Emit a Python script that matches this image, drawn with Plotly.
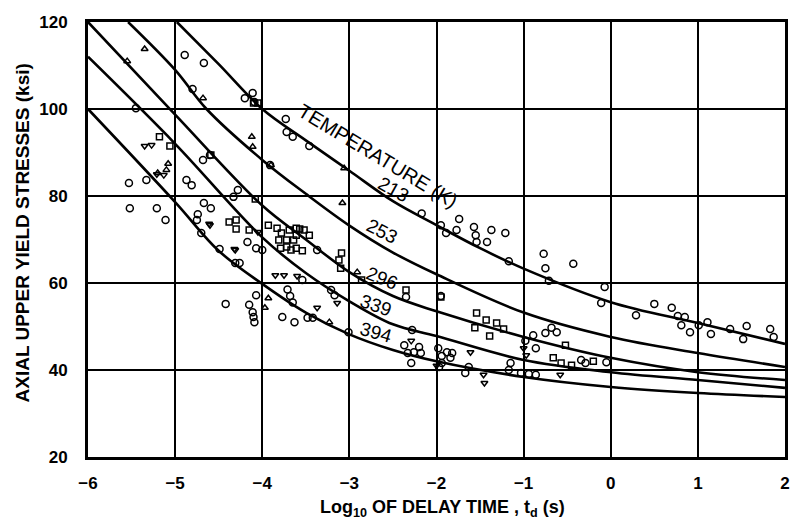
import plotly.graph_objects as go

# Fitted yield-stress curves, one per test temperature (K)
temps = ["213", "253", "296", "339", "394"]
curve_x = {
    "213": [-4.98, -4.5, -4.0, -3.5, -3.0, -2.5, -2.0, -1.5, -1.0, 0.0, 1.0, 2.0],
    "253": [-5.54, -5.0, -4.64, -4.0, -3.5, -3.0, -2.5, -2.0, -1.0, 0.0, 1.0, 2.0],
    "296": [-6.0, -5.0, -4.0, -3.5, -3.0, -2.5, -2.0, -1.0, 0.0, 1.0, 2.0],
    "339": [-6.0, -5.0, -4.0, -3.5, -3.0, -2.5, -2.0, -1.0, 0.0, 1.0, 2.0],
    "394": [-6.0, -5.0, -4.5, -4.0, -3.5, -3.0, -2.5, -2.0, -1.0, 0.0, 1.0, 2.0],
}
curve_y = {
    "213": [120.0, 110.3, 100.0, 92.8, 85.8, 78.8, 73.3, 68.0, 63.3, 55.6, 50.8, 46.0],
    "253": [120.0, 109.0, 100.0, 88.3, 80.5, 73.2, 67.0, 62.0, 53.2, 47.6, 43.9, 40.7],
    "296": [120.0, 98.7, 77.8, 70.0, 62.5, 57.0, 53.5, 47.6, 42.8, 39.5, 37.7],
    "339": [112.0, 92.0, 70.5, 62.3, 55.8, 50.5, 47.8, 42.3, 39.5, 37.7, 35.9],
    "394": [100.0, 78.6, 67.4, 59.8, 53.2, 48.2, 44.6, 42.0, 38.4, 36.1, 34.7, 33.8],
}

# Measured upper yield stresses, grouped by plotting symbol
circle_x = [-4.89, -4.67, -5.45, -4.80, -4.11, -4.20, -4.09, -3.73, -3.72, -3.65, -3.46,
            -5.53, -5.52, -5.33, -5.21, -5.11, -4.87, -4.81, -4.68, -4.60, -4.28, -4.33,
            -3.91, -4.67, -4.59, -4.75, -4.74, -4.70, -4.49, -4.31, -4.26, -4.17, -4.07,
            -4.00, -4.42, -4.15, -4.11, -4.10, -4.09, -4.07, -3.77, -3.63, -3.71, -3.68,
            -3.65, -3.37, -3.21, -3.17, -3.54, -3.48, -3.42, -3.01, -2.17, -2.35, -2.28,
            -2.37, -2.33, -2.26, -2.20, -2.18, -2.29, -1.95, -1.74, -1.77, -1.89, -1.57,
            -1.55, -1.54, -1.42, -1.37, -1.21, -1.17, -0.77, -0.75, -0.71, -0.43, -0.07,
            -0.11, 0.29, 0.50, 0.70, 0.77, 0.85, 0.81, 0.91, 1.01, 1.11, 1.15, 1.37, 1.56,
            1.52, 1.83, 1.87, -1.95, -0.98, -0.89, -0.75, -0.68, -0.62, -0.86, -1.98,
            -1.94, -1.88, -1.84, -1.82, -1.97, -1.94, -1.67, -1.63, -1.15, -1.17, -1.03,
            -0.94, -0.86, -0.34, -0.29, -0.05]
circle_y = [112.4, 110.6, 100.2, 104.6, 103.7, 102.5, 101.6, 97.7, 94.7, 93.6, 91.5,
            83.0, 77.2, 83.7, 77.2, 74.5, 83.7, 82.5, 88.3, 89.4, 81.4, 79.8,
            87.1, 78.4, 77.2, 74.5, 75.8, 71.5, 67.8, 64.6, 64.6, 69.4, 68.0,
            67.6, 55.2, 55.0, 53.3, 52.2, 51.0, 57.2, 52.2, 51.0, 58.5, 57.0,
            55.5, 67.6, 58.4, 57.2, 60.7, 52.0, 52.0, 48.7, 76.0, 56.8, 49.2,
            45.7, 43.9, 44.1, 45.3, 43.9, 41.6, 73.3, 74.7, 72.2, 71.5, 72.9,
            71.0, 69.4, 69.4, 72.2, 71.5, 65.0, 66.7, 63.4, 60.5, 64.4, 59.1,
            55.4, 52.6, 55.2, 54.3, 52.4, 52.2, 50.3, 48.7, 50.3, 51.0, 48.3, 49.4, 50.1,
            47.1, 49.4, 47.6, 57.0, 46.7, 48.0, 48.5, 49.7, 48.7, 45.0, 45.0,
            43.2, 44.1, 42.8, 43.9, 40.7, 41.6, 39.3, 40.7, 41.6, 40.0, 39.3,
            39.1, 38.9, 42.3, 41.6, 41.8]

square_x = [-4.10, -4.05, -5.18, -5.06, -4.59, -4.08, -4.38, -4.30, -4.15, -4.30, -3.93,
            -3.83, -3.78, -3.69, -3.61, -3.81, -3.72, -3.64, -3.79, -3.72, -3.61, -3.57,
            -3.52, -3.46, -3.61, -3.54, -3.67, -3.09, -3.12, -3.10, -2.86, -2.35, -1.95,
            -1.54, -1.43, -1.31, -1.23, -1.56, -1.39, -0.52, -0.66, -0.57, -0.45, -0.20]
square_y = [101.4, 101.4, 93.6, 91.5, 89.4, 79.3, 74.0, 74.5, 72.2, 72.4, 73.3,
            72.6, 71.5, 72.2, 72.6, 69.9, 69.9, 69.9, 68.0, 68.3, 68.0, 72.4,
            72.2, 71.0, 71.0, 67.4, 67.6, 66.9, 65.3, 63.4, 60.7, 58.4, 56.8,
            53.1, 51.5, 50.8, 49.4, 49.7, 47.8, 45.7, 42.8, 41.6, 41.1, 42.0]

tri_up_x = [-5.35, -5.55, -4.68, -4.12, -4.11, -5.08, -5.20, -3.90, -3.06, -3.08, -3.97,
            -3.23, -2.91, -5.10, -3.93]
tri_up_y = [113.8, 111.0, 102.5, 93.6, 91.3, 87.4, 85.3, 87.1, 86.4, 78.4, 54.3,
            51.0, 62.5, 86.0, 56.5]

tri_dn_x = [-5.35, -5.27, -5.21, -5.13, -4.61, -4.60, -4.32, -4.31, -4.05, -3.85, -3.75,
            -3.60, -3.37, -3.14, -2.29, -1.61, -1.46, -1.45, -1.00, -0.97, -0.58, -2.00]
tri_dn_y = [91.5, 91.7, 85.0, 84.8, 73.6, 73.3, 67.8, 67.6, 71.7, 61.8, 61.8,
            61.6, 54.3, 55.4, 46.7, 44.1, 38.9, 37.0, 45.0, 43.4, 38.9, 41.0]

# Curve label placement (data coords) and rotation
label_x = [-2.49, -2.62, -2.62, -2.69, -2.69]
label_y = [81.6, 71.8, 61.0, 54.8, 48.6]
label_angle = [29, 27, 22, 19, 16]

FONT = "Liberation Sans, Arial, Helvetica, sans-serif"

fig = go.Figure()

for t in temps:
    fig.add_trace(go.Scatter(
        x=curve_x[t], y=curve_y[t], mode="lines",
        line=dict(color="black", width=2.6, shape="spline", smoothing=1.0),
        hoverinfo="skip", showlegend=False,
    ))

marker_sets = [
    (circle_x, circle_y, "circle-open", 7),
    (square_x, square_y, "square-open", 6),
    (tri_up_x, tri_up_y, "triangle-up-open", 6),
    (tri_dn_x, tri_dn_y, "triangle-down-open", 6),
]
for xs, ys, sym, size in marker_sets:
    fig.add_trace(go.Scatter(
        x=xs, y=ys, mode="markers", showlegend=False,
        marker=dict(symbol=sym, size=size, color="black", line=dict(color="black", width=1.5)),
    ))

annotations = [dict(
    x=-2.67, y=89.2, text="TEMPERATURE (K)", showarrow=False, textangle=31,
    font=dict(family=FONT, size=20, color="black"),
)]
for t, lx, ly, ang in zip(temps, label_x, label_y, label_angle):
    annotations.append(dict(
        x=lx, y=ly, text=t, showarrow=False, textangle=ang,
        font=dict(family=FONT, size=19, color="black"),
    ))

# Axis titles
annotations.append(dict(
    xref="paper", yref="paper", x=0.509, y=-0.118, xanchor="center", yanchor="middle",
    text="Log<sub>10</sub> OF DELAY TIME , t<sub>d</sub> (s)", showarrow=False,
    font=dict(family=FONT, size=18, color="black", weight="bold"),
))
annotations.append(dict(
    xref="paper", yref="paper", x=-0.094, y=0.515, xanchor="center", yanchor="middle",
    text="AXIAL UPPER YIELD STRESSES (ksi)", showarrow=False, textangle=-90,
    font=dict(family=FONT, size=19, color="black", weight="bold"),
))

fig.update_layout(
    width=802, height=526,
    margin=dict(l=88, r=15, t=22, b=69),
    paper_bgcolor="white", plot_bgcolor="white",
    font=dict(family=FONT, color="black"),
    annotations=annotations,
    xaxis=dict(
        range=[-6, 2], dtick=1, tick0=-6,
        showgrid=True, gridcolor="black", gridwidth=2, zeroline=False,
        showline=True, linecolor="black", linewidth=3, mirror=True,
        ticks="outside", ticklen=9, tickcolor="rgba(0,0,0,0)",
        tickfont=dict(family=FONT, size=17, color="black", weight="bold"),
    ),
    yaxis=dict(
        range=[20, 120], dtick=20, tick0=20,
        showgrid=True, gridcolor="black", gridwidth=2, zeroline=False,
        showline=True, linecolor="black", linewidth=3, mirror=True,
        ticks="outside", ticklen=14, tickcolor="rgba(0,0,0,0)",
        tickfont=dict(family=FONT, size=17, color="black", weight="bold"),
    ),
)

fig.write_html("out.html")
